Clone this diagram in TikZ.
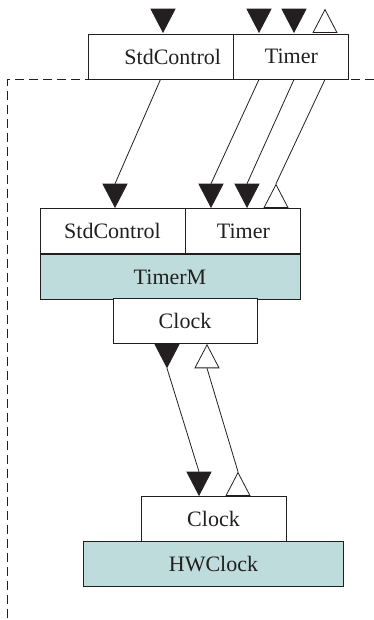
\documentclass[tikz,border=0pt]{standalone}
\usepackage{fontspec}
\setmainfont{Liberation Serif}
\usetikzlibrary{positioning,shapes.geometric}
\definecolor{verdeagua}{RGB}{189,220,219}
\definecolor{trazo}{RGB}{35,31,32}
\begin{document}
\begin{tikzpicture}[x=1pt, y=-1pt,
  caja/.style={draw=trazo, line width=0.9pt, fill=white, minimum width=#1,
    minimum height=45pt, inner sep=0pt, text=trazo,
    font=\fontsize{22}{26}\selectfont},
  modulo/.style={caja=#1, fill=verdeagua},
  usa/.style={shape=isosceles triangle, isosceles triangle apex angle=55,
    shape border rotate=-90, draw=trazo, fill=trazo, line width=0.8pt,
    inner sep=0pt, minimum height=23pt, anchor=apex},
  provee/.style={usa, shape border rotate=90, fill=white, anchor=lower side},
  enlace/.style={draw=trazo, line width=0.8pt},
  limite/.style={draw=trazo, line width=1pt, dash pattern=on 9pt off 5pt}
]
\useasboundingbox (0,0) rectangle (374,620);
% limite del componente
\coordinate (esq) at (7,80);
\draw[limite] (374,80) -- (esq) -- (7,620);
% interfaces superiores
\node[caja=145pt, text width=121pt, align=right] (sup-std) at (160.5,56.5) {StdControl};
\node[caja=115pt, right=0pt of sup-std] (sup-timer) {Timer};
\node[usa] (u1) at (163,33) {};
\node[usa] (u2) at (259,33) {};
\node[usa] (u3) at (294,33) {};
\node[provee] (p1) at (325,33) {};
% TimerM
\node[caja=145pt] (std) at (112.5,231) {StdControl};
\node[caja=115pt, right=0pt of std] (timer) {Timer};
\node[modulo=260pt, anchor=north west] (timerm) at (std.south west) {TimerM};
\node[caja=144pt] (clock) at (185,321) {Clock};
\node[usa] (m1) at (115,208) {};
\node[usa] (m2) at (211,208) {};
\node[usa] (m3) at (247,208) {};
\node[provee] (m4) at (276,208) {};
\node[usa, anchor=lower side] (c1) at (167,344) {};
\node[provee, anchor=apex] (c2) at (207,344) {};
% HWClock
\node[caja=145pt] (hw-clock) at (213.5,518.5) {Clock};
\node[modulo=260pt, below=0pt of hw-clock] (hwclock) {HWClock};
\node[usa] (b1) at (199,496) {};
\node[provee] (b2) at (238,496) {};
% conexiones
\draw[enlace] (sup-std.south) -- (m1.lower side);
\draw[enlace] (sup-timer.south -| u2) -- (m2.lower side);
\draw[enlace] (sup-timer.south -| u3) -- (m3.lower side);
\draw[enlace] (sup-timer.south -| p1) -- (m4.apex);
\draw[enlace] (c1.apex) -- (b1.lower side);
\draw[enlace] (c2.lower side) -- (b2.apex);
\end{tikzpicture}
\end{document}
